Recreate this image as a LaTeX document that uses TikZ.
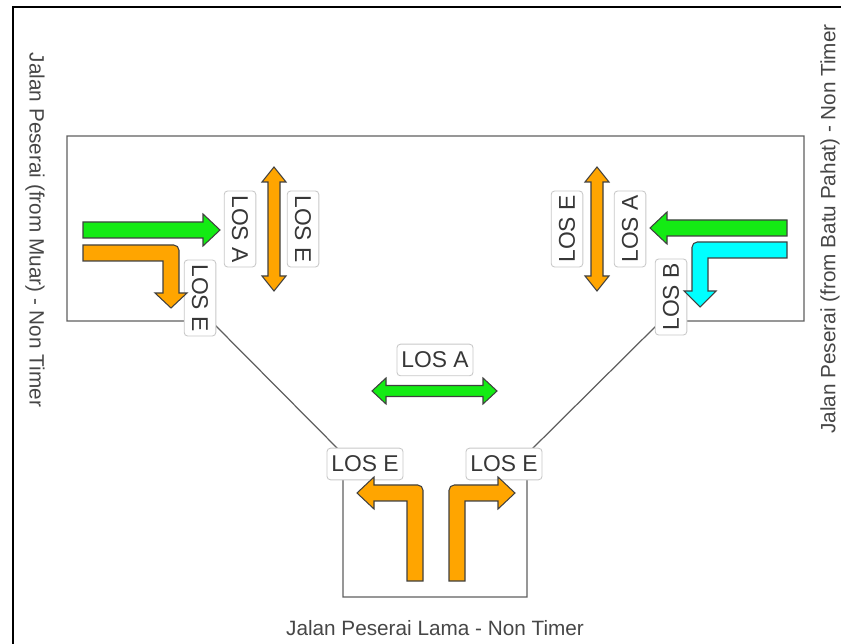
\documentclass[tikz,border=0pt]{standalone}
\usepackage{fontspec}
\setmainfont{Liberation Sans}
\definecolor{losgreen}{RGB}{20,235,20}
\definecolor{losorange}{RGB}{255,165,0}
\definecolor{loscyan}{RGB}{0,255,255}
\definecolor{roadgrey}{RGB}{95,95,95}
\definecolor{tagborder}{RGB}{200,200,200}
\definecolor{tagtext}{RGB}{55,55,55}
\definecolor{captext}{RGB}{70,70,70}
\tikzset{
  road/.style={draw=roadgrey, line width=0.7pt},
  flow/.style={draw=black!75, line width=0.6pt, line join=miter},
  greenflow/.style={flow, fill=losgreen},
  orangeflow/.style={flow, fill=losorange},
  cyanflow/.style={flow, fill=loscyan},
  lostag/.style={rectangle, draw=tagborder, fill=white, rounded corners=2pt,
    text=tagtext, font=\fontsize{13}{14}\selectfont, inner xsep=2.5pt,
    inner ysep=1pt, minimum height=18pt, line width=0.5pt},
  roadname/.style={text=captext, font=\fontsize{11.8}{13}\selectfont}
}

\begin{document}
\begin{tikzpicture}[x=0.02cm, y=-0.02cm]
  \useasboundingbox (0,0) rectangle (841,644);
  % frame
  \draw[line width=1.1pt] (13,644) -- (13,7) -- (841,7);
  % junction outline
  \draw[road] (67,136) -- (804,136) -- (804,321) -- (661,321) -- (527,454)
    -- (527,597) -- (343,597) -- (343,454) -- (211,321) -- (67,321) -- cycle;

  % level of service tags
  \node[lostag, rotate=-90] (wA) at (240,229) {LOS A};
  \node[lostag, rotate=-90] (wE) at (303,229) {LOS E};
  \node[lostag, rotate=-90] (wL) at (200,298) {LOS E};
  \node[lostag, rotate=90]  (eE) at (567,229) {LOS E};
  \node[lostag, rotate=90]  (eA) at (630,229) {LOS A};
  \node[lostag, rotate=90]  (eB) at (671,297) {LOS B};
  \node[lostag] (mA) at (435,360) {LOS A};
  \node[lostag] (sL) at (365,464) {LOS E};
  \node[lostag] (sR) at (504,464) {LOS E};

  % west approach: through and left turn
  \draw[greenflow] (83,222) -- (203,222) -- (203,214) -- (220,230) -- (203,246)
    -- (203,238) -- (83,238) -- cycle;
  \draw[orangeflow] (83,245) -- (130,245) [rounded corners=3pt] -- (179,245)
    -- (179,270) [sharp corners] -- (179,293) -- (187,293) -- (171,308)
    -- (155,293) -- (163,293) -- (163,261) -- (83,261) -- cycle;
  % pedestrian crossings on the main road
  \foreach \cx in {274,597} {
    \draw[orangeflow] (\cx,167) -- (\cx+12,182) -- (\cx+6,182) -- (\cx+6,276)
      -- (\cx+12,276) -- (\cx,291) -- (\cx-12,276) -- (\cx-6,276) -- (\cx-6,182)
      -- (\cx-12,182) -- cycle;
  }
  % east approach: through and right turn
  \draw[greenflow] (787,220) -- (667,220) -- (667,212) -- (650,228) -- (667,244)
    -- (667,236) -- (787,236) -- cycle;
  \draw[cyanflow] (787,242) -- (740,242) [rounded corners=3pt] -- (692,242)
    -- (692,270) [sharp corners] -- (692,291) -- (684,291) -- (700,307)
    -- (716,291) -- (708,291) -- (708,258) -- (787,258) -- cycle;
  % crossing over the minor road
  \draw[greenflow] (372,391) -- (386,378) -- (386,385.5) -- (483,385.5)
    -- (483,378) -- (497,391) -- (483,404) -- (483,396.5) -- (386,396.5)
    -- (386,404) -- cycle;
  % south approach: left and right turns
  \draw[orangeflow] (407,581) -- (423,581) -- (423,540) [rounded corners=3pt]
    -- (423,485) -- (390,485) [sharp corners] -- (374,485) -- (374,477)
    -- (357,493) -- (374,509) -- (374,501) -- (407,501) -- cycle;
  \draw[orangeflow] (465,581) -- (449,581) -- (449,540) [rounded corners=3pt]
    -- (449,485) -- (482,485) [sharp corners] -- (498,485) -- (498,477)
    -- (515,493) -- (498,509) -- (498,501) -- (465,501) -- cycle;

  % road names
  \node[roadname, rotate=-90] (west) at (35,230) {Jalan Peserai (from Muar) - Non Timer};
  \node[roadname, rotate=90]  (east) at (830,229) {Jalan Peserai (from Batu Pahat) - Non Timer};
  \node[roadname] (south) at (435,628) {Jalan Peserai Lama - Non Timer};
\end{tikzpicture}
\end{document}
